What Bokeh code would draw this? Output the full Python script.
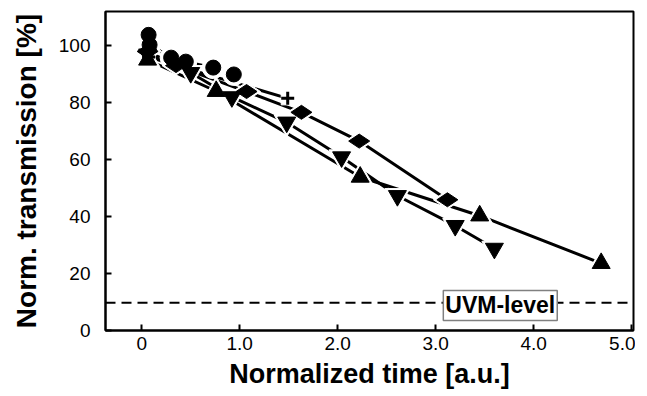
from bokeh.plotting import figure
from bokeh.models import FixedTicker, Span, Label, Range1d
from bokeh.embed import file_html
from bokeh.resources import INLINE

# ---- data ----
circle_x = [0.07, 0.08, 0.30, 0.45, 0.73, 0.94]
circle_y = [103.8, 100.3, 95.8, 94.4, 92.3, 89.9]

plus_x = [0.07, 1.49]
plus_y = [96.0, 81.5]

diamond_x = [0.06, 0.35, 1.07, 1.63, 2.22, 3.12]
diamond_y = [98.0, 93.0, 83.9, 76.6, 66.5, 45.9]

downtri_x = [0.06, 0.50, 0.92, 1.48, 2.04, 2.61, 3.20, 3.60]
downtri_y = [97.0, 90.5, 82.0, 73.1, 60.9, 47.3, 36.8, 28.8]

uptri_x = [0.06, 0.76, 2.23, 3.45, 4.69]
uptri_y = [95.0, 84.0, 53.9, 40.3, 23.6]

uvm_level = 9.7
uvm_label_x = 3.66
uvm_label_y = 8.8

x_ticks = [0, 1, 2, 3, 4, 5]
x_tick_labels = ["0", "1.0", "2.0", "3.0", "4.0", "5.0"]
y_ticks = [0, 20, 40, 60, 80, 100]

FONT = "Liberation Sans"

p = figure(width=635, height=391, output_backend="svg", toolbar_location=None,
           x_range=Range1d(-0.37, 5.02), y_range=Range1d(0, 112))
p.min_border_left = 105
p.min_border_right = 2
p.min_border_top = 11
p.min_border_bottom = 59
p.background_fill_color = "white"
p.border_fill_color = "white"
p.outline_line_color = "black"
p.outline_line_width = 2
p.xgrid.visible = False
p.ygrid.visible = False

p.xaxis.ticker = FixedTicker(ticks=x_ticks)
p.xaxis.major_label_overrides = {t: l for t, l in zip(x_ticks, x_tick_labels)}
p.yaxis.ticker = FixedTicker(ticks=y_ticks)
for ax in (p.xaxis, p.yaxis):
    ax.axis_line_width = 2
    ax.axis_line_color = "black"
    ax.major_tick_in = 6
    ax.major_tick_out = 0
    ax.major_tick_line_width = 2
    ax.minor_tick_line_color = None
    ax.major_label_text_font = FONT
    ax.major_label_text_font_size = "19px"
    ax.major_label_text_color = "black"
    ax.axis_label_text_font = FONT
    ax.axis_label_text_font_style = "bold"
    ax.axis_label_text_color = "black"
p.xaxis.axis_label_text_font_size = "27px"
p.yaxis.axis_label_text_font_size = "28px"
p.xaxis.axis_label = "Normalized time [a.u.]"
p.yaxis.axis_label = "Norm. transmission [%]"
p.xaxis.major_label_standoff = 6
p.xaxis.axis_label_standoff = 6
p.yaxis.major_label_standoff = 15
p.yaxis.axis_label_standoff = 14

# UVM level
p.add_layout(Span(location=uvm_level, dimension="width", line_color="black",
                  line_width=2, line_dash="10 6"))

series = [
    (circle_x, circle_y, "circle", 15, 0),
    (plus_x, plus_y, "cross", 13, 0),
    (diamond_x, diamond_y, "diamond", 21, 1.5708),
    (downtri_x, downtri_y, "inverted_triangle", 18, 0),
    (uptri_x, uptri_y, "triangle", 18, 0),
]

for xs, ys, m, s, a in series:
    p.line(xs, ys, line_color="black", line_width=3)

for xs, ys, m, s, a in series:
    if m == "cross":
        p.scatter(xs, ys, marker="square", size=s, angle=a,
                  fill_color="white", line_color="white")
    else:
        p.scatter(xs, ys, marker=m, size=s + 7, angle=a,
                  fill_color="white", line_color="white")

for xs, ys, m, s, a in series:
    if m == "cross":
        p.scatter(xs, ys, marker="cross", size=s, line_color="black", line_width=3)
    else:
        p.scatter(xs, ys, marker=m, size=s, angle=a,
                  fill_color="black", line_color="black")

p.add_layout(Label(x=uvm_label_x, y=uvm_label_y, text="UVM-level",
                   text_font=FONT, text_font_size="23px", text_font_style="bold",
                   text_color="black",
                   text_align="center", text_baseline="middle",
                   background_fill_color="white", border_line_color="#808080",
                   border_line_width=1.5, padding=2))

open("out.html", "w").write(file_html(p, INLINE))
